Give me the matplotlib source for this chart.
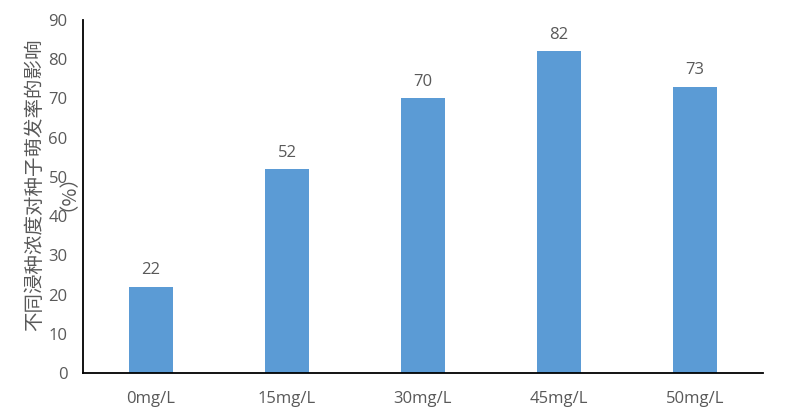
import matplotlib
matplotlib.use("Agg")
import matplotlib.pyplot as plt

categories = ["0mg/L", "15mg/L", "30mg/L", "45mg/L", "50mg/L"]
rates = [22, 52, 70, 82, 73]
yticks = [0, 10, 20, 30, 40, 50, 60, 70, 80, 90]

plt.rcParams['font.family'] = ['Open Sans', 'Noto Sans CJK SC', 'DejaVu Sans']
grey = '#595959'

fig = plt.figure(figsize=(8, 4.19), dpi=100)
ax = fig.add_axes([83/800, 1 - 373/419, (763 - 83)/800, (373 - 20)/419])

x = range(len(categories))
bars = ax.bar(x, rates, width=0.32, color='#5B9BD5')
for b, v in zip(bars, rates):
    ax.annotate(str(v), (b.get_x() + b.get_width()/2, v), xytext=(0, 6),
                textcoords='offset points', ha='center', va='bottom',
                fontsize=12, color=grey)

ax.set_xlim(-0.5, len(categories) - 0.5)
ax.set_ylim(0, 90)
ax.set_yticks(yticks)
ax.set_xticks(list(x))
ax.set_xticklabels(categories)
ax.tick_params(axis='both', length=0, labelsize=12, colors=grey)
ax.tick_params(axis='y', pad=11)
ax.tick_params(axis='x', pad=13)

for s in ['top', 'right']:
    ax.spines[s].set_visible(False)
for s in ['left', 'bottom']:
    ax.spines[s].set_color('black')
    ax.spines[s].set_linewidth(1.3)

fig.text(35/800, 1 - 185/419, "不同浸种浓度对种子萌发率的影响", rotation=90,
         ha='center', va='center', fontsize=14, color=grey,
         family=['Noto Sans CJK SC', 'DejaVu Sans'])
fig.text(58/800, 1 - 183/419, "（%）", rotation=90,
         ha='center', va='center', fontsize=14, color=grey,
         family=['Noto Sans CJK SC', 'DejaVu Sans'])

fig.savefig('out.png', dpi=100)
